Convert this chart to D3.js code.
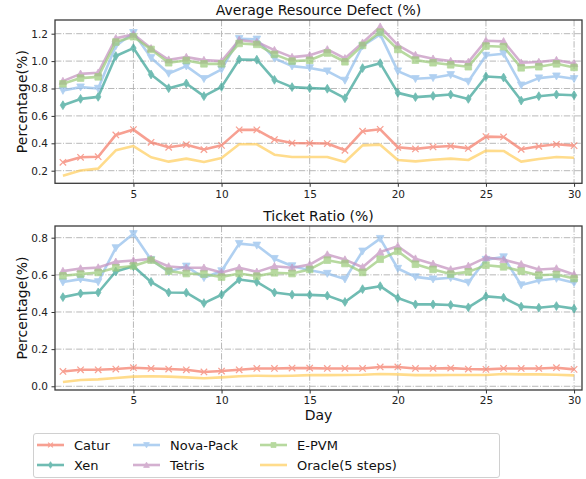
<!DOCTYPE html>
<html>
<head>
<meta charset="utf-8">
<script src="https://cdn.jsdelivr.net/npm/d3@7"></script>
<style>
  body { margin: 0; background: #fff; }
  svg { display: block; font-family: "DejaVu Sans", sans-serif; }
</style>
</head>
<body>
<svg id="chart" width="586" height="479"></svg>
<script>
const days = d3.range(1, 31);
const seriesNames = ["Catur", "Xen", "Nova-Pack", "Tetris", "E-PVM", "Oracle(5 steps)"];

// Average Resource Defect (%)
const defectCatur = [0.261,0.298,0.302,0.461,0.50,0.407,0.371,0.39,0.354,0.385,0.498,0.498,0.427,0.402,0.40,0.398,0.349,0.488,0.502,0.371,0.359,0.373,0.38,0.363,0.449,0.446,0.356,0.378,0.393,0.383];
const defectXen = [0.678,0.724,0.739,1.037,1.095,0.902,0.802,0.837,0.744,0.812,1.012,1.01,0.863,0.81,0.803,0.798,0.729,0.949,0.985,0.768,0.737,0.746,0.756,0.724,0.888,0.88,0.712,0.744,0.756,0.751];
const defectNova = [0.785,0.81,0.80,1.11,1.207,1.024,0.91,0.963,0.871,0.939,1.163,1.159,1.02,0.963,0.95,0.927,0.859,1.11,1.195,0.927,0.871,0.878,0.90,0.851,1.041,1.054,0.824,0.876,0.89,0.871];
const defectTetris = [0.854,0.907,0.915,1.166,1.195,1.093,1.01,1.029,1.007,1.0,1.154,1.139,1.08,1.029,1.042,1.085,1.02,1.134,1.251,1.117,1.044,1.017,1.0,0.993,1.149,1.144,0.988,0.993,1.007,0.983];
const defectEPVM = [0.834,0.876,0.885,1.139,1.178,1.085,0.988,1.005,0.98,0.98,1.129,1.122,1.049,1.0,1.006,1.059,0.995,1.115,1.212,1.085,1.007,0.988,0.973,0.959,1.11,1.105,0.951,0.959,0.98,0.954];
const defectOracle = [0.163,0.202,0.215,0.349,0.38,0.298,0.266,0.288,0.263,0.293,0.393,0.393,0.317,0.30,0.30,0.30,0.263,0.385,0.39,0.278,0.268,0.28,0.288,0.278,0.346,0.344,0.266,0.285,0.30,0.295];

// Ticket Ratio (%)
const ticketCatur = [0.080,0.089,0.089,0.093,0.100,0.096,0.093,0.089,0.077,0.082,0.089,0.096,0.096,0.098,0.098,0.096,0.096,0.096,0.104,0.104,0.096,0.096,0.098,0.093,0.091,0.096,0.096,0.096,0.100,0.091];
const ticketXen = [0.48,0.50,0.505,0.618,0.646,0.562,0.505,0.504,0.448,0.493,0.575,0.562,0.505,0.493,0.492,0.488,0.454,0.523,0.539,0.475,0.441,0.441,0.438,0.425,0.484,0.477,0.429,0.423,0.432,0.418];
const ticketNova = [0.561,0.577,0.562,0.745,0.821,0.682,0.616,0.646,0.584,0.621,0.768,0.759,0.687,0.648,0.625,0.607,0.577,0.727,0.795,0.634,0.589,0.577,0.584,0.559,0.682,0.696,0.545,0.57,0.58,0.557];
const ticketTetris = [0.62,0.634,0.639,0.67,0.677,0.686,0.645,0.638,0.638,0.613,0.638,0.616,0.646,0.638,0.655,0.709,0.682,0.641,0.723,0.754,0.687,0.659,0.629,0.648,0.693,0.682,0.657,0.629,0.634,0.602];
const ticketEPVM = [0.595,0.604,0.613,0.638,0.648,0.679,0.62,0.607,0.604,0.588,0.607,0.593,0.611,0.607,0.629,0.679,0.661,0.613,0.684,0.727,0.657,0.629,0.604,0.616,0.652,0.643,0.62,0.598,0.602,0.58];
const ticketOracle = [0.023,0.034,0.037,0.045,0.052,0.054,0.052,0.048,0.043,0.048,0.054,0.057,0.055,0.057,0.06,0.06,0.061,0.062,0.066,0.064,0.06,0.06,0.061,0.061,0.061,0.066,0.064,0.064,0.062,0.059];

const xTicks = [5, 10, 15, 20, 25, 30];
const defectTicks = [0.2, 0.4, 0.6, 0.8, 1.0, 1.2];
const ticketTicks = [0.0, 0.2, 0.4, 0.6, 0.8];

const colors = ["#F57C69", "#3AA396", "#93BFEC", "#C493BF", "#9CCB7B", "#FFCF5F"];
const markers = ["x", "thin_diamond", "tri_down", "tri_up", "square", "none"];

const svg = d3.select("#chart");
const left = 55, right = 582;

function markerPath(type, k) {
  k = k || 1;
  const f = v => (v * k).toFixed(2);
  switch (type) {
    case "x": return `M${f(-3.2)},${f(-3.2)}L${f(3.2)},${f(3.2)}M${f(-3.2)},${f(3.2)}L${f(3.2)},${f(-3.2)}`;
    case "thin_diamond": return `M0,${f(-4.4)}L${f(2.7)},0L0,${f(4.4)}L${f(-2.7)},0Z`;
    case "tri_down": return `M${f(-3.8)},${f(-3.2)}L${f(3.8)},${f(-3.2)}L0,${f(3.8)}Z`;
    case "tri_up": return `M${f(-3.8)},${f(3.2)}L${f(3.8)},${f(3.2)}L0,${f(-3.8)}Z`;
    case "square": return `M${f(-3.3)},${f(-3.3)}L${f(3.3)},${f(-3.3)}L${f(3.3)},${f(3.3)}L${f(-3.3)},${f(3.3)}Z`;
  }
  return null;
}

function drawMarker(g, type, color, x, y, k) {
  const p = markerPath(type, k);
  if (!p) return;
  const m = g.append("path").attr("d", p).attr("transform", `translate(${x},${y})`);
  if (type === "x") m.attr("fill", "none").attr("stroke", color).attr("stroke-width", 1.2);
  else m.attr("fill", color).attr("stroke", color).attr("stroke-width", 0.8);
}

function panel(top, bottom, yDomain, yTicks, title, seriesData, showXLabel) {
  const x = d3.scaleLinear().domain([0.55, 30.45]).range([left, right]);
  const y = d3.scaleLinear().domain(yDomain).range([bottom, top]);
  const g = svg.append("g");

  // grid
  const dash = "6.4,1.6,1,1.6";
  g.selectAll(".hg").data(yTicks).enter().append("line")
    .attr("x1", left).attr("x2", right)
    .attr("y1", d => y(d)).attr("y2", d => y(d))
    .attr("stroke", "#b0b0b0").attr("stroke-width", 0.9).attr("stroke-dasharray", dash);
  g.selectAll(".vg").data(xTicks).enter().append("line")
    .attr("y1", top).attr("y2", bottom)
    .attr("x1", d => x(d)).attr("x2", d => x(d))
    .attr("stroke", "#b0b0b0").attr("stroke-width", 0.9).attr("stroke-dasharray", dash);

  // series
  const line = d3.line().x((d, i) => x(days[i])).y(d => y(d));
  seriesData.forEach((vals, si) => {
    const sg = g.append("g").attr("opacity", 0.72);
    sg.append("path").datum(vals).attr("d", line)
      .attr("fill", "none").attr("stroke", colors[si]).attr("stroke-width", 2.6)
      .attr("stroke-linejoin", "round");
    vals.forEach((v, i) => drawMarker(sg, markers[si], colors[si], x(days[i]), y(v)));
  });

  // axes
  const xAxis = d3.axisBottom(x).tickValues(xTicks).tickFormat(d3.format("d")).tickSizeOuter(0).tickSize(3.5).tickPadding(3.5);
  const yAxis = d3.axisLeft(y).tickValues(yTicks).tickFormat(d3.format(".1f")).tickSizeOuter(0).tickSize(3.5).tickPadding(3.5);
  const gx = g.append("g").attr("transform", `translate(0,${bottom})`).call(xAxis);
  const gy = g.append("g").attr("transform", `translate(${left},0)`).call(yAxis);
  [gx, gy].forEach(a => {
    a.select(".domain").remove();
    a.selectAll("text").attr("font-size", "10.5px").attr("fill", "#222").attr("font-family", "DejaVu Sans");
    a.selectAll("line").attr("stroke", "#333");
  });

  // frame
  g.append("rect").attr("x", left).attr("y", top).attr("width", right - left).attr("height", bottom - top)
    .attr("fill", "none").attr("stroke", "#3a3a3a").attr("stroke-width", 1.3);

  g.append("text").attr("x", (left + right) / 2).attr("y", top - 5)
    .attr("text-anchor", "middle").attr("font-size", "14px").attr("fill", "#111").text(title);

  g.append("text").attr("transform", `translate(22,${(top + bottom) / 2}) rotate(-90)`)
    .attr("text-anchor", "middle").attr("dy", "0.35em").attr("font-size", "14px").attr("fill", "#111").text("Percentage(%)");

  if (showXLabel) {
    g.append("text").attr("x", (left + right) / 2).attr("y", bottom + 30)
      .attr("text-anchor", "middle").attr("font-size", "14px").attr("fill", "#111").text("Day");
  }
}

panel(20, 183.3, [0.108, 1.30], defectTicks, "Average Resource Defect (%)",
  [defectCatur, defectXen, defectNova, defectTetris, defectEPVM, defectOracle], false);
panel(226, 390, [-0.02, 0.863], ticketTicks, "Ticket Ratio (%)",
  [ticketCatur, ticketXen, ticketNova, ticketTetris, ticketEPVM, ticketOracle], true);

// legend
const lg = svg.append("g");
lg.append("rect").attr("x", 33.5).attr("y", 433.5).attr("width", 466).attr("height", 44).attr("rx", 2.5)
  .attr("fill", "#fff").attr("stroke", "#d0d0d0").attr("stroke-width", 1);
const colX = [37, 133, 260, 361];
const rowY = [445, 465];
seriesNames.forEach((name, i) => {
  const col = Math.floor(i / 2), row = i % 2;
  const cx = colX[col], cy = rowY[row];
  const eg = lg.append("g").attr("opacity", 0.72);
  eg.append("line").attr("x1", cx).attr("x2", cx + 27).attr("y1", cy).attr("y2", cy)
    .attr("stroke", colors[i]).attr("stroke-width", 2.6);
  drawMarker(eg, markers[i], colors[i], cx + 13.5, cy, 0.75);
  lg.append("text").attr("x", cx + 37).attr("y", cy).attr("dy", "0.36em")
    .attr("font-size", "13px").attr("fill", "#111").text(name);
});
</script>
</body>
</html>
